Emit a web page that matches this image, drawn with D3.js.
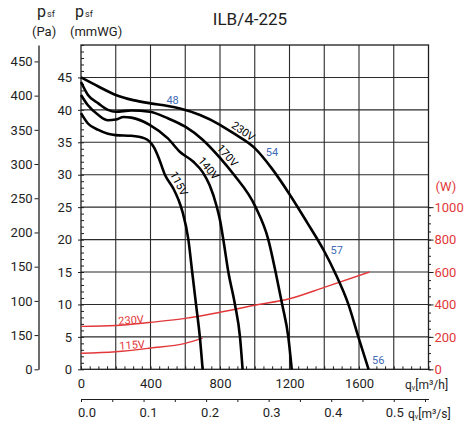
<!DOCTYPE html>
<html>
<head>
<meta charset="utf-8">
<script src="https://cdn.jsdelivr.net/npm/d3@7"></script>
<style>
  body { margin: 0; background: #fff; }
  text { font-family: Roboto, "DejaVu Sans", sans-serif; }
</style>
</head>
<body>
<script>
// ILB/4-225 fan curve: pressure vs air flow, plus power draw
const title = "ILB/4-225";

// pressure curves [q m3/h, p mmWG]
const c230V = [[0,45],[100,43.6],[200,42.3],[300,41.5],[400,41.0],[500,40.6],[570,40.2],[685,39.2],[800,37.7],[877,36.4],[1000,34.1],[1100,30.9],[1200,27.0],[1300,22.7],[1400,18.2],[1460,15],[1539,10],[1596,5],[1655,0]];
const c170V = [[0,44.3],[40,42.3],[100,41.0],[155,40.0],[200,39.7],[290,39.9],[395,39.7],[500,38.7],[600,37.4],[700,35.4],[800,32.6],[877,30.1],[1005,25],[1078,20],[1120,15],[1158,10],[1193,5],[1213,0]];
const c140V = [[0,42.3],[40,40.7],[100,39.2],[155,38.4],[200,38.5],[245,38.9],[290,38.8],[395,37.7],[500,35.6],[570,33.5],[647,32.0],[700,30.4],[740,28.4],[781,25.1],[800,23],[819,20],[848,15],[886,10],[915,5],[930,0]];
const c115V = [[0,39.5],[40,37.9],[100,36.9],[155,36.3],[200,36.1],[290,36.0],[366,35.6],[395,35.1],[420,34.2],[450,32.4],[483,30.0],[531,27.9],[560,26.2],[585,24.2],[618,20],[640,15],[662,10],[684,5],[700,0]];

// power curves [q m3/h, W]
const w230V = [[0,265],[200,270],[400,290],[600,314],[800,352],[1000,395],[1200,435],[1400,505],[1660,600]];
const w115V = [[0,99],[200,108],[400,131],[600,160],[700,192]];

// curve labels [text, q, p on the curve, angle]
const curveLabels = [["230V",910,35.8,35],["170V",812,32.2,48],["140V",703,30.25,50],["115V",527,28.1,62]];
const noiseLabels = [["48",527,41.5],["54",1099,33.5],["57",1472,18.4],["56",1711,1.4]];
const powerLabels = [["230V",288,304],["115V",294,150]];

// ticks
const qTicks = [0,400,800,1200,1600];
const mmTicks = [0,5,10,15,20,25,30,35,40,45];
const paTicks = [0,50,100,150,200,250,300,350,400,450];
const paLabels = ["0","150","100","150","200","250","300","350","400","450"];
const wTicks = [0,200,400,600,800,1000];

const red = "#e2383a", blue = "#3f6db8", ink = "#1e1e1e";

const svg = d3.select("body").append("svg")
  .attr("width", 472).attr("height", 426);

const x = d3.scaleLinear().domain([0, 2000]).range([81, 428.5]);
const y = d3.scaleLinear().domain([0, 50]).range([369.3, 45]);
const yPa = d3.scaleLinear().domain([0, 474]).range([369.3, 45]);
const yW = d3.scaleLinear().domain([0, 2000]).range([369.3, 45]);
const xs = d3.scaleLinear().domain([0, 2000 / 3600]).range([81, 428.5]);

// grid
svg.append("g").selectAll("line").data(d3.range(200, 2000, 200)).join("line")
  .attr("x1", d => x(d)).attr("x2", d => x(d))
  .attr("y1", y(0)).attr("y2", y(50))
  .attr("stroke", "#2a2a2a").attr("stroke-width", 1.1);
svg.append("g").selectAll("line").data(d3.range(5, 50, 5)).join("line")
  .attr("x1", x(0)).attr("x2", x(2000))
  .attr("y1", d => y(d)).attr("y2", d => y(d))
  .attr("stroke", "#2a2a2a").attr("stroke-width", 1.1);
svg.append("rect")
  .attr("x", x(0)).attr("y", y(50))
  .attr("width", x(2000) - x(0)).attr("height", y(0) - y(50))
  .attr("fill", "none").attr("stroke", ink).attr("stroke-width", 1.3);

function style(g, size, color) {
  g.attr("font-family", null).attr("font-size", size);
  g.selectAll("text").attr("fill", color || ink);
  g.selectAll("line").attr("stroke", ink);
  g.selectAll(".domain").attr("stroke", ink);
}

// Pa axis
const gPa = svg.append("g").attr("transform", "translate(38.5,0)")
  .call(d3.axisLeft(yPa).tickValues(paTicks).tickFormat((d, i) => paLabels[i])
    .tickSize(4).tickSizeOuter(0).tickPadding(2));
style(gPa, 13);
gPa.select(".domain").attr("stroke-width", 1.3);

// mmWG axis
const gMm = svg.append("g").attr("transform", "translate(81,0)")
  .call(d3.axisLeft(y).tickValues(mmTicks).tickSize(3).tickPadding(6));
style(gMm, 13);
gMm.select(".domain").remove();
const gMmMinor = svg.append("g").attr("transform", "translate(81,0)")
  .call(d3.axisRight(y).tickValues(d3.range(0, 51)).tickSize(3).tickFormat(""));
style(gMmMinor, 13);
gMmMinor.select(".domain").remove();

// m3/h axis
const gQ = svg.append("g").attr("transform", "translate(0," + y(0) + ")")
  .call(d3.axisBottom(x).tickValues(qTicks).tickFormat(d3.format("d"))
    .tickSize(0).tickPadding(9));
style(gQ, 13);
gQ.select(".domain").remove();
const gQMinor = svg.append("g").attr("transform", "translate(0," + y(0) + ")")
  .call(d3.axisTop(x).tickValues(d3.range(0, 2001, 50)).tickSize(3).tickFormat(""));
style(gQMinor, 13);
gQMinor.select(".domain").remove();

// W axis
const gW = svg.append("g").attr("transform", "translate(" + x(2000) + ",0)")
  .call(d3.axisRight(yW).tickValues(wTicks).tickFormat(d3.format("d"))
    .tickSize(5).tickPadding(1));
style(gW, 13, red);
gW.select(".domain").remove();
const gWMinor = svg.append("g").attr("transform", "translate(" + x(2000) + ",0)")
  .call(d3.axisRight(yW).tickValues(d3.range(0, 1001, 50)).tickSize(2.5).tickFormat(""));
style(gWMinor, 13);
gWMinor.select(".domain").remove();
svg.append("text").attr("x", x(2000) + 7).attr("y", yW(1000) - 16)
  .attr("font-size", 13).attr("fill", red).text("(W)");

// m3/s axis
const gS = svg.append("g").attr("transform", "translate(0,399)")
  .call(d3.axisBottom(xs).tickValues(d3.range(0, 12).map(i => i * 0.05))
    .tickFormat((d, i) => i % 2 ? "" : d.toFixed(1))
    .tickSize(3).tickSizeOuter(0).tickPadding(6));
style(gS, 13);
gS.selectAll("text").attr("dx", (d, i) => 5.5 - i * 0.5);

// unit labels
function unit(xp, yp, tail) {
  const t = svg.append("text").attr("x", xp).attr("y", yp)
    .attr("font-size", 12).attr("fill", ink);
  t.append("tspan").text("q");
  t.append("tspan").attr("font-size", 7).attr("dy", 1).text("v");
  t.append("tspan").attr("dy", -1).text(tail);
}
unit(405, 389, "[m³/h]");
unit(408, 418, "[m³/s]");

function head(xp, sub) {
  const t = svg.append("text").attr("x", xp).attr("y", 17)
    .attr("font-size", 16).attr("fill", ink);
  t.append("tspan").text("p");
  t.append("tspan").attr("font-size", 9).attr("dx", 1).text("sf");
  svg.append("text").attr("x", xp - 5).attr("y", 36)
    .attr("font-size", 13).attr("fill", ink).text(sub);
}
head(37, "(Pa)");
head(75, "(mmWG)");

svg.append("text").attr("x", 250).attr("y", 25)
  .attr("text-anchor", "middle").attr("font-size", 17)
  .attr("fill", ink).text(title);

// power curves
const wLine = d3.line().x(d => x(d[0])).y(d => yW(d[1])).curve(d3.curveMonotoneX);
svg.append("g").selectAll("path").data([w230V, w115V]).join("path")
  .attr("d", wLine).attr("fill", "none")
  .attr("stroke", red).attr("stroke-width", 1.4);

// pressure curves
const pLine = d3.line().x(d => x(d[0])).y(d => y(d[1])).curve(d3.curveMonotoneX);
svg.append("g").selectAll("path").data([c230V, c170V, c140V, c115V]).join("path")
  .attr("d", pLine).attr("fill", "none")
  .attr("stroke", "#000").attr("stroke-width", 2.6)
  .attr("stroke-linejoin", "round");

// labels sit just above-right of their curve
svg.append("g").selectAll("text").data(curveLabels).join("text")
  .attr("transform", d => "translate(" + x(d[1]) + "," + y(d[2]) + ") rotate(" + d[3] + ")")
  .attr("text-anchor", "middle").attr("dy", -3.5)
  .attr("font-size", 11).attr("fill", "#000").text(d => d[0]);

svg.append("g").selectAll("text").data(noiseLabels).join("text")
  .attr("x", d => x(d[1])).attr("y", d => y(d[2]))
  .attr("text-anchor", "middle").attr("dy", "0.35em")
  .attr("font-size", 11).attr("fill", blue).text(d => d[0]);

svg.append("g").selectAll("text").data(powerLabels).join("text")
  .attr("transform", d => "translate(" + x(d[1]) + "," + yW(d[2]) + ") rotate(-4)")
  .attr("text-anchor", "middle").attr("dy", "0.35em")
  .attr("font-size", 11).attr("fill", red).text(d => d[0]);
</script>
</body>
</html>
